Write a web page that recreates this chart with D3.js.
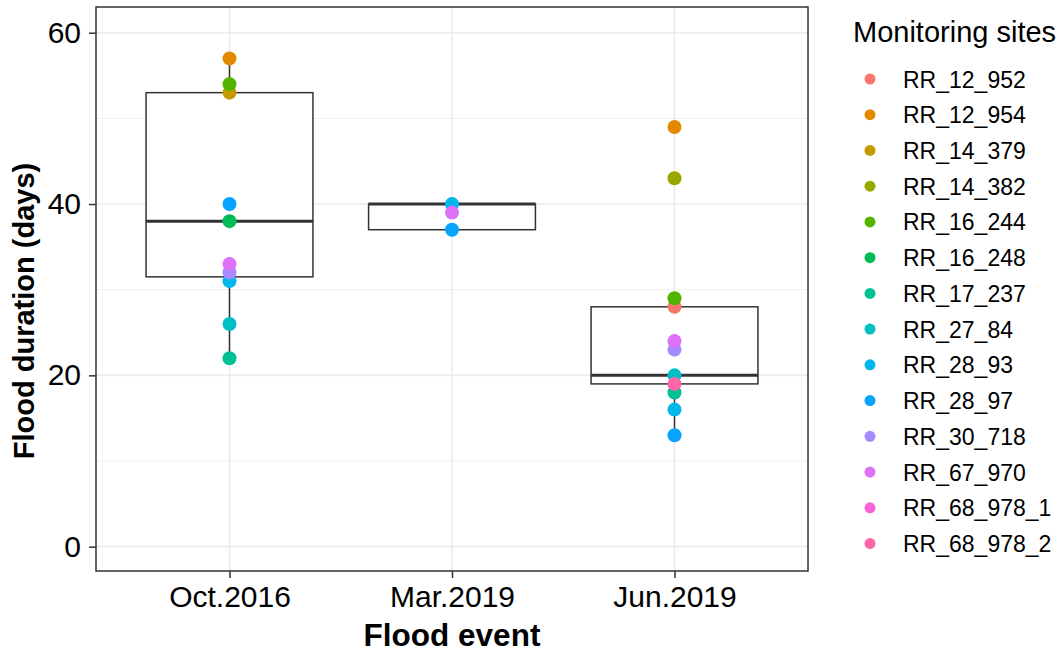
<!DOCTYPE html>
<html>
<head>
<meta charset="utf-8">
<script src="https://cdn.jsdelivr.net/npm/d3@7"></script>
<style>
  html, body { margin: 0; padding: 0; background: #fff; }
  svg text { font-family: "Liberation Sans", Arial, sans-serif; }
</style>
</head>
<body>
<svg id="chart" width="1062" height="652"></svg>
<script>
// ---------- data ----------
const categories = ["Oct.2016", "Mar.2019", "Jun.2019"];
const sites = ["RR_12_952", "RR_12_954", "RR_14_379", "RR_14_382", "RR_16_244", "RR_16_248",
  "RR_17_237", "RR_27_84", "RR_28_93", "RR_28_97", "RR_30_718", "RR_67_970", "RR_68_978_1", "RR_68_978_2"];
const siteColors = ["#F8766D", "#E38900", "#C49A00", "#99A800", "#53B400", "#00BC56",
  "#00C094", "#00BFC4", "#00B6EB", "#06A4FF", "#A58AFF", "#DF70F8", "#FB61D7", "#FF66A8"];
// values per site (same order as sites), null = not recorded
const oct2016 = [null, 57, 53, null, 54, 38, 22, 26, 31, 40, 32, 33, null, null];
const mar2019 = [null, null, null, null, null, null, null, null, 40, 37, null, 39, null, null];
const jun2019 = [28, 49, null, 43, 29, null, 18, 20, 16, 13, 23, 24, null, 19];
// box statistics per category
const boxLower  = [22, 37, 13];
const boxQ1     = [31.5, 37, 19];
const boxMedian = [38, 40, 20];
const boxQ3     = [53, 40, 28];
const boxUpper  = [57, 40, 29];
const yTicks = [0, 20, 40, 60];
const yMinor = [10, 30, 50];

const eventValues = [oct2016, mar2019, jun2019];

// ---------- layout ----------
const svg = d3.select("#chart");
const panel = { left: 96, right: 808, top: 7, bottom: 571 };
const x = d3.scalePoint().domain(categories).range([panel.left, panel.right]).padding(0.6);
const y = d3.scaleLinear().domain([-2.84, 63.0]).range([panel.bottom, panel.top]);
const color = d3.scaleOrdinal().domain(sites).range(siteColors);
const boxW = x.step() * 0.75;

// grid
const g = svg.append("g");
g.selectAll(".minor").data(yMinor).join("line")
  .attr("x1", panel.left).attr("x2", panel.right)
  .attr("y1", d => y(d)).attr("y2", d => y(d))
  .attr("stroke", "#EBEBEB").attr("stroke-width", 0.8);
g.selectAll(".major").data(yTicks).join("line")
  .attr("x1", panel.left).attr("x2", panel.right)
  .attr("y1", d => y(d)).attr("y2", d => y(d))
  .attr("stroke", "#EBEBEB").attr("stroke-width", 1.6);
g.selectAll(".vmajor").data(categories).join("line")
  .attr("x1", d => x(d)).attr("x2", d => x(d))
  .attr("y1", panel.top).attr("y2", panel.bottom)
  .attr("stroke", "#EBEBEB").attr("stroke-width", 1.6);

// boxes
const boxData = categories.map((c, i) => ({
  c, lo: boxLower[i], q1: boxQ1[i], med: boxMedian[i], q3: boxQ3[i], hi: boxUpper[i]
}));
const bx = svg.append("g");
bx.selectAll(".wlo").data(boxData).join("line")
  .attr("x1", d => x(d.c)).attr("x2", d => x(d.c))
  .attr("y1", d => y(d.q1)).attr("y2", d => y(d.lo))
  .attr("stroke", "#333333").attr("stroke-width", 1.5);
bx.selectAll(".whi").data(boxData).join("line")
  .attr("x1", d => x(d.c)).attr("x2", d => x(d.c))
  .attr("y1", d => y(d.q3)).attr("y2", d => y(d.hi))
  .attr("stroke", "#333333").attr("stroke-width", 1.5);
bx.selectAll(".box").data(boxData).join("rect")
  .attr("x", d => x(d.c) - boxW / 2).attr("width", boxW)
  .attr("y", d => y(d.q3)).attr("height", d => y(d.q1) - y(d.q3))
  .attr("fill", "white").attr("stroke", "#333333").attr("stroke-width", 1.5);
bx.selectAll(".med").data(boxData).join("line")
  .attr("x1", d => x(d.c) - boxW / 2).attr("x2", d => x(d.c) + boxW / 2)
  .attr("y1", d => y(d.med)).attr("y2", d => y(d.med))
  .attr("stroke", "#333333").attr("stroke-width", 3);

// points
const points = [];
categories.forEach((c, ci) => {
  eventValues[ci].forEach((v, si) => {
    if (v !== null) points.push({ c, site: sites[si], v });
  });
});
svg.append("g").selectAll("circle").data(points).join("circle")
  .attr("cx", d => x(d.c)).attr("cy", d => y(d.v)).attr("r", 7)
  .attr("fill", d => color(d.site));

// panel border
svg.append("rect")
  .attr("x", panel.left).attr("y", panel.top)
  .attr("width", panel.right - panel.left).attr("height", panel.bottom - panel.top)
  .attr("fill", "none").attr("stroke", "#333333").attr("stroke-width", 1.5);

// axes
const yAxis = d3.axisLeft(y).tickValues(yTicks).tickSize(7).tickPadding(8);
const ya = svg.append("g").attr("transform", `translate(${panel.left},0)`).call(yAxis);
const xAxis = d3.axisBottom(x).tickSize(7).tickPadding(8);
const xa = svg.append("g").attr("transform", `translate(0,${panel.bottom})`).call(xAxis);
[ya, xa].forEach(a => {
  a.select(".domain").remove();
  a.selectAll(".tick line").attr("stroke", "#333333").attr("stroke-width", 1.5);
  a.selectAll(".tick text").attr("fill", "#000").style("font-size", "30px")
    .style("font-family", "'Liberation Sans', Arial, sans-serif");
});

// axis titles
svg.append("text")
  .attr("x", (panel.left + panel.right) / 2).attr("y", 646)
  .attr("text-anchor", "middle").style("font-size", "31.5px").style("font-weight", "bold")
  .text("Flood event");
svg.append("text")
  .attr("transform", `translate(34,311) rotate(-90)`)
  .attr("text-anchor", "middle").style("font-size", "29px").style("font-weight", "bold")
  .text("Flood duration (days)");

// legend
const lg = svg.append("g");
lg.append("text").attr("x", 853).attr("y", 42).style("font-size", "29px").text("Monitoring sites");
const ly = d3.scalePoint().domain(sites).range([79, 543.5]);
const items = lg.selectAll(".item").data(sites).join("g")
  .attr("transform", d => `translate(0,${ly(d)})`);
items.append("circle").attr("cx", 870).attr("cy", 0).attr("r", 5.5).attr("fill", d => color(d));
items.append("text").attr("x", 903).attr("y", 8.5).style("font-size", "23px").text(d => d);
</script>
</body>
</html>
